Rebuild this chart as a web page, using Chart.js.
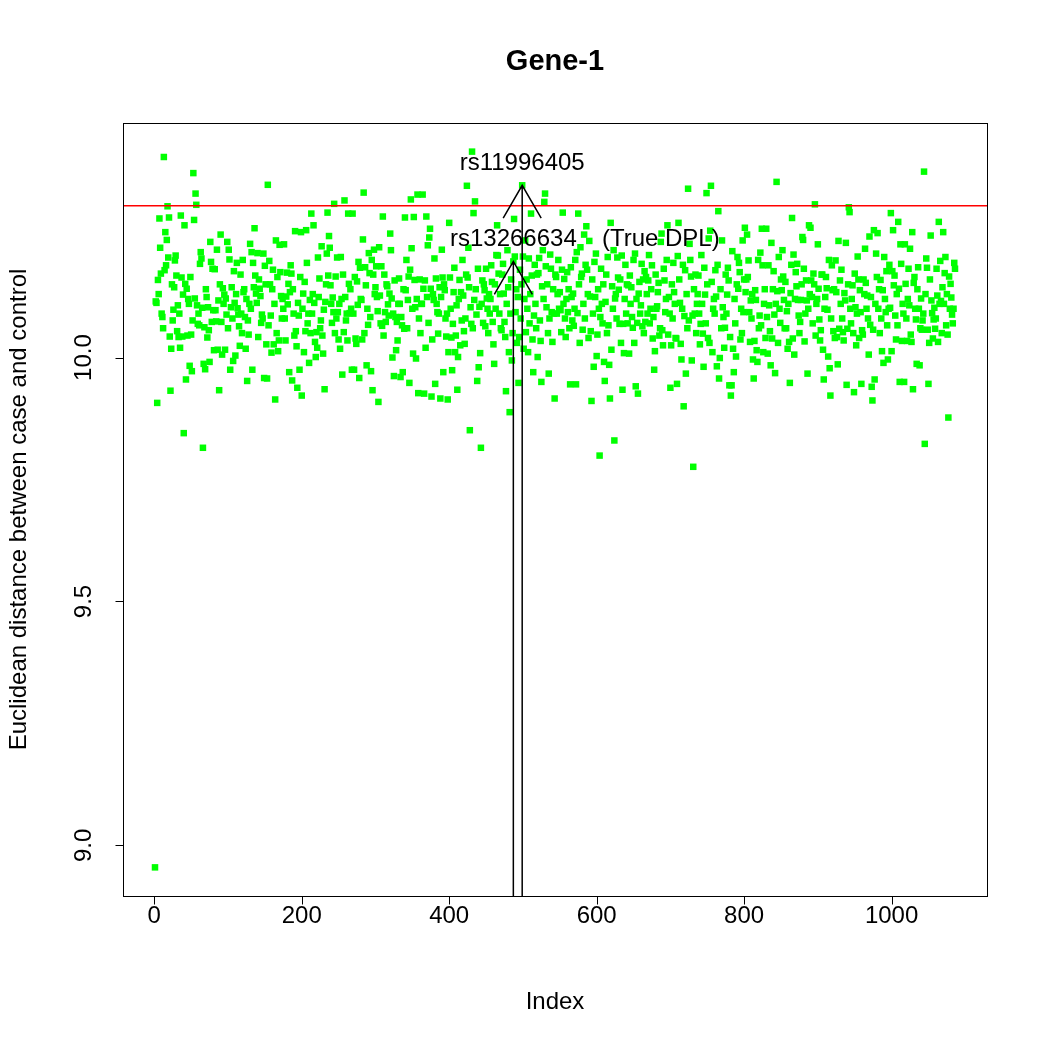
<!DOCTYPE html>
<html>
<head>
<meta charset="utf-8">
<title>Gene-1</title>
<script src="https://cdn.jsdelivr.net/npm/chart.js@4.4.1/dist/chart.umd.min.js"></script>
<style>
  html, body { margin: 0; padding: 0; background: #fff; }
  canvas { display: block; }
</style>
</head>
<body>
<canvas id="geneChart" width="1050" height="1050"></canvas>
<script>
// Euclidean distance between case and control, one value per SNP index
const seg1 = [8.955, 10.115, 10.112, 9.907, 10.159, 10.13, 10.285, 10.225, 10.172, 10.090,
  10.083, 10.06, 10.411, 10.179, 10.257, 10.189, 10.241, 10.310, 10.205, 10.287,
  10.043, 9.932, 10.018, 10.15, 10.076, 10.098, 10.144, 10.199, 10.209, 10.168,
  10.054, 10.107, 10.042, 10.090, 10.02, 10.291, 10.164, 10.043, 10.129, 9.845,
  10.271, 10.151, 9.955, 10.141, 10.045, 10.12, 10.110, 9.983, 10.165, 10.047,
  9.972, 10.076, 10.378, 10.282, 10.121, 10.336, 10.313, 10.107, 10.069, 10.09,
  10.066, 10.192, 10.216, 10.203, 10.102, 9.815, 9.987, 10.062, 9.976, 10.14,
  10.124, 10.041, 10.103, 10.056, 9.991, 10.237, 10.196, 10.073, 10.182, 10.097,
  10.015]
const seg2 = [10.181, 10.097, 10.074, 10.221, 10.016, 10.117, 9.933, 10.15, 10.252, 10.073,
  10.006, 10.142, 10.11, 10.129, 10.016, 10.121, 10.088, 10.237, 10.06, 10.221,
  10.201, 9.975, 10.103, 10.144, 10.080, 9.993, 10.177, 10.112, 10.004, 10.13,
  10.194, 10.101, 10.088, 10.064, 10.024, 10.17, 10.09, 10.05, 10.200, 10.134,
  10.140, 10.083, 10.018, 10.12, 9.952, 10.076, 10.047, 10.110, 10.233, 10.10,
  10.216, 9.975, 10.194, 10.144, 10.265, 10.168, 10.131, 10.112, 10.214, 10.042,
  10.16, 10.141, 10.126, 10.071, 10.088, 10.08, 10.213, 9.958, 10.188, 10.150,
  10.027, 9.957, 10.354, 10.066, 10.198, 10.150, 10.086, 10.010, 10.14, 10.180,
  10.027, 10.110, 9.914, 10.240, 10.05, 10.165, 10.013, 10.035, 10.231, 10.175,
  10.126, 10.080, 10.12, 10.10]
const seg3 = [10.232, 10.080, 10.035, 10.125, 10.174, 10.109, 10.151, 9.970, 10.134, 10.189,
  10.172, 9.953, 10.14, 10.090, 10.045, 10.259, 10.054, 10.023, 9.938, 10.112,
  10.086, 9.975, 10.165, 10.257, 9.922, 10.10, 10.131, 10.011, 10.155, 10.054,
  10.261, 10.194, 10.07, 10.090, 9.989, 10.118, 10.050, 10.295, 10.090, 10.13,
  10.271, 10.112, 10.032, 10.001, 10.052, 10.020, 10.205, 10.124, 10.162, 10.06,
  10.076, 10.228, 10.045, 10.008, 10.098, 9.935, 10.114, 10.15, 10.213, 10.297,
  10.168, 10.249, 10.225, 10.148, 10.11, 10.071, 10.123, 10.093, 10.315, 10.050,
  10.166, 10.08, 10.205, 10.093, 10.037, 10.110, 10.018, 10.206, 10.12, 9.965,
  10.170, 10.052, 10.322, 10.124, 10.076, 10.09, 10.035, 10.295, 10.151, 10.091,
  10.14, 10.10, 9.975]
const seg4 = [10.295, 10.090, 9.975, 10.165, 10.039, 10.028, 10.156, 10.108, 10.196, 9.958,
  10.184, 10.12, 10.118, 10.037, 10.242, 10.338, 10.050, 10.185, 10.148, 9.984,
  10.10, 10.067, 10.214, 10.173, 10.083, 9.972, 10.200, 9.933, 10.170, 10.221,
  10.13, 10.144, 10.187, 10.124, 10.095, 9.909, 10.226, 10.127, 10.07, 10.187,
  10.065, 10.289, 10.045, 10.170, 10.093, 10.073, 10.15, 10.146, 10.109, 10.086,
  10.131, 10.254, 10.220, 10.121, 10.000, 10.09, 9.962, 10.158, 10.083, 10.015,
  10.073, 10.035, 10.11, 10.162, 10.110, 9.960, 10.083, 10.066, 9.970, 10.14,
  10.059, 10.287, 10.138, 10.200, 10.06, 10.118, 10.166, 9.948, 10.180, 10.324,
  10.224, 10.10, 10.008, 10.288, 10.159, 10.103, 9.998, 10.12, 10.334, 9.927,
  10.08, 10.16, 10.05, 10.11]
const seg5 = [10.110, 10.334, 10.141, 9.926, 10.158, 10.020, 10.289, 10.124, 10.230, 10.071,
  10.246, 10.264, 10.141, 9.920, 10.037, 10.13, 10.118, 10.203, 9.946, 10.162,
  10.110, 10.093, 10.049, 10.09, 10.144, 9.916, 10.124, 10.221, 10.164, 9.970,
  10.15, 10.138, 10.080, 10.043, 10.090, 9.914, 10.011, 10.276, 10.164, 10.10,
  10.041, 9.974, 10.069, 10.134, 10.184, 10.011, 10.045, 10.107, 9.934, 10.001,
  10.12, 10.159, 10.025, 10.134, 10.076, 10.200, 10.127, 10.054, 10.028, 10.08,
  10.17, 10.352, 10.164, 10.225, 10.144, 9.851, 10.103, 10.069, 10.422, 10.06,
  10.296, 10.118, 10.320, 10.14, 10.088, 9.952, 10.182, 9.980, 10.104, 10.009,
  9.815, 10.11, 10.158, 10.071, 10.15, 10.138, 10.064, 10.182, 10.121, 10.10,
  10.05, 10.13, 10.09]
const seg6 = [10.12, 10.189, 10.155, 10.073, 10.027, 9.987, 10.15, 10.10, 10.21, 10.271,
  10.209, 10.172, 10.090, 10.13, 10.06, 10.056, 10.17, 10.192, 10.131, 10.073,
  10.042, 9.931, 10.11, 10.22, 10.144, 10.011, 9.888, 10.09, 10.16, 9.994,
  10.05, 10.197, 10.284, 10.207, 10.093, 10.14, 10.03, 10.124, 9.948, 10.042,
  10.18, 10.08, 10.15, 10.353, 10.207, 10.018, 10.12, 10.24, 10.052, 10.16,
  10.10, 10.011, 10.203, 10.07, 10.13, 10.295, 10.168, 10.037, 9.970, 10.086,
  10.19, 10.11, 10.06, 10.17, 10.001, 10.173, 10.204, 10.076, 10.034, 9.950,
  10.146, 10.22, 10.12, 10.319, 10.336, 10.187, 10.103, 10.15, 10.05, 9.967,
  10.08, 10.211, 10.182, 10.093, 10.032, 10.14, 10.09, 9.916, 10.17, 10.165,
  10.090, 10.13, 10.20, 10.10]
const seg7 = [10.134, 10.097, 10.052, 10.18, 10.297, 10.110, 10.161, 10.080, 10.042, 10.12,
  10.175, 10.093, 10.14, 10.06, 9.945, 10.185, 10.124, 10.076, 10.131, 10.065,
  10.10, 10.20, 9.945, 10.216, 10.091, 10.295, 10.15, 10.03, 10.226, 10.165,
  10.172, 10.057, 10.11, 10.252, 10.08, 10.19, 10.269, 10.180, 10.13, 10.04,
  10.239, 10.125, 10.054, 9.911, 10.16, 10.09, 9.981, 10.196, 10.124, 10.213,
  10.003, 10.047, 10.14, 10.100, 9.799, 10.083, 10.182, 10.11, 10.07, 10.150,
  9.991, 9.952, 10.114, 10.17, 10.05, 10.206, 10.066, 9.985, 9.916, 10.276,
  10.016, 10.146, 10.10, 10.22, 9.830, 10.121, 10.13, 10.08, 10.205, 10.164,
  10.139, 10.069, 10.16, 10.03, 10.209, 9.934, 10.069, 10.009, 10.12, 10.19,
  10.09, 10.15, 10.07]
const seg8 = [10.148, 10.008, 10.168, 10.11, 10.144, 10.083, 10.061, 10.20, 10.03, 10.213,
  9.941, 10.12, 10.071, 9.926, 10.131, 10.155, 10.09, 10.107, 10.192, 10.064,
  10.16, 10.05, 10.177, 10.073, 10.165, 10.13, 10.090, 10.158, 10.21, 10.07,
  10.100, 10.14, 10.189, 10.039, 10.083, 9.975, 10.013, 10.17, 10.10, 10.105,
  10.134, 10.153, 10.045, 10.06, 10.237, 10.254, 10.056, 10.025, 10.182, 10.158,
  10.093, 10.12, 10.20, 10.271, 10.047, 10.124, 10.090, 9.938, 10.025, 10.15,
  10.08, 10.194, 10.134, 10.11, 10.04, 10.039, 9.946, 10.208, 10.276, 10.16,
  10.112, 10.028, 9.996, 10.10, 10.19, 9.900, 10.085, 10.179, 9.967, 10.13,
  10.06, 10.346, 10.076, 10.233, 10.200, 10.166, 9.994, 10.086, 9.776, 10.14,
  10.09, 10.17, 10.05, 10.11]
const seg9 = [10.13, 10.168, 10.090, 10.027, 10.069, 10.21, 10.11, 10.049, 9.981, 10.184,
  10.129, 10.07, 10.337, 10.15, 10.04, 10.244, 10.030, 10.260, 10.352, 10.155,
  10.011, 10.10, 10.12, 10.09, 10.179, 10.125, 9.982, 10.19, 10.300, 9.957,
  9.999, 10.14, 10.06, 10.240, 10.103, 10.083, 10.020, 10.061, 10.17, 10.09,
  10.129, 10.184, 10.158, 9.943, 10.042, 9.922, 9.943, 10.218, 10.018, 9.970,
  10.12, 10.07, 10.002, 10.15, 10.206, 10.141, 10.194, 10.175, 10.037, 10.10,
  10.05, 10.240, 10.093, 10.16, 10.266, 10.134, 10.16, 10.252, 10.165, 10.199,
  10.093, 10.032, 10.117, 10.08, 10.13, 9.996, 9.957, 10.034, 10.138, 10.118,
  10.015, 9.991, 10.20, 10.06, 10.086, 10.215, 10.066, 10.264, 10.189, 10.011,
  10.11, 10.14, 10.04]
const seg10 = [10.264, 10.083, 10.008, 10.189, 10.107, 10.054, 9.984, 10.235, 10.039, 10.14,
  10.177, 10.088, 9.968, 10.110, 10.360, 10.136, 10.030, 10.206, 10.100, 10.071,
  10.16, 10.138, 10.220, 10.166, 10.118, 10.06, 10.155, 10.06, 10.095, 10.018,
  10.110, 10.032, 9.948, 10.132, 10.19, 10.286, 10.039, 10.211, 10.006, 10.12,
  10.175, 10.146, 10.192, 10.118, 10.086, 10.05, 10.073, 10.118, 10.15, 10.247,
  10.241, 10.182, 10.033, 10.09, 10.158, 10.117, 9.967, 10.100, 10.271, 10.13,
  10.266, 10.158, 10.124, 10.07, 10.172, 10.150, 10.314, 10.045, 10.11, 10.12,
  10.232, 10.141, 10.078, 10.035, 10.056, 10.17, 10.170, 10.016, 9.955, 10.10,
  10.124, 10.165, 10.142, 10.098, 10.002, 10.200, 9.978, 9.922, 10.08, 10.189,
  10.138, 10.054, 10.14, 10.04]
const seg11 = [10.199, 10.134, 10.042, 9.986, 10.239, 10.059, 10.158, 10.11, 10.18, 10.08,
  10.052, 10.035, 10.132, 10.117, 10.235, 9.944, 10.059, 10.15, 10.308, 10.298,
  10.100, 10.07, 10.12, 10.148, 10.050, 9.929, 10.172, 10.103, 10.025, 10.09,
  10.207, 10.16, 10.04, 10.138, 10.093, 9.946, 10.056, 10.047, 10.16, 10.13,
  10.223, 10.153, 10.100, 10.127, 10.08, 10.006, 10.248, 10.067, 10.124, 9.940,
  9.912, 10.057, 10.261, 9.955, 10.11, 10.213, 10.165, 10.255, 10.100, 10.14,
  10.05, 10.159, 10.080, 10.013, 10.138, 9.989, 10.206, 10.12, 10.093, 10.177,
  10.066, 9.996, 10.10, 10.19, 10.102, 10.296, 10.013, 10.177, 10.261, 10.148,
  10.168, 10.086, 10.037, 10.13, 10.066, 10.278, 10.141, 9.950, 10.232, 10.192,
  10.034, 10.11, 10.09]
const seg12 = [9.950, 10.232, 10.151, 10.080, 10.034, 10.12, 10.182, 10.107, 10.223, 10.047,
  10.032, 10.257, 9.935, 10.153, 10.165, 10.10, 10.078, 9.987, 10.14, 10.185,
  10.100, 9.984, 10.06, 10.121, 10.057, 10.076, 10.090, 10.381, 9.823, 10.13,
  10.203, 10.184, 10.057, 9.946, 10.030, 10.16, 10.250, 10.117, 10.091, 10.039,
  10.078, 10.102, 10.059, 10.08, 10.182, 10.127, 10.032, 10.278, 10.11, 10.198,
  10.116, 10.05, 10.144, 10.257, 10.110, 10.173, 10.206, 10.066, 10.13, 10.047,
  9.877, 10.166, 10.10, 10.151, 10.123, 10.088, 10.07, 10.10, 10.194, 10.182]

const distance = [].concat(seg1, seg2, seg3, seg4, seg5, seg6, seg7, seg8, seg9, seg10, seg11, seg12)

const thresholdValue = 10.311          // red horizontal line
const snpNames = ['rs13266634', 'rs11996405']
const snpIndex = [487, 499]
const noteText = '(True DPL)'
const noteIndex = 687
const noteValue = 10.242

const xTicks = [0, 200, 400, 600, 800, 1000]
const yTicks = [9.0, 9.5, 10.0]
const yTickLabels = ['9.0', '9.5', '10.0']

// R-style axis limits: data range stretched by 4% each side
const n = distance.length
const yLo = Math.min(...distance), yHi = Math.max(...distance)
const xMin = 1 - 0.04 * (n - 1), xMax = n + 0.04 * (n - 1)
const yMin = yLo - 0.04 * (yHi - yLo), yMax = yHi + 0.04 * (yHi - yLo)

const FONT = '"Liberation Sans", Arial, Helvetica, sans-serif'

const rDecor = {
  id: 'rDecor',
  afterDatasetsDraw(chart) {
    const ctx = chart.ctx
    const a = chart.chartArea
    const xs = chart.scales.x, ys = chart.scales.y
    ctx.save()

    // abline
    const yt = ys.getPixelForValue(thresholdValue)
    ctx.strokeStyle = '#ff0000'
    ctx.lineWidth = 1.5
    ctx.beginPath()
    ctx.moveTo(a.left, yt)
    ctx.lineTo(a.right, yt)
    ctx.stroke()

    // arrows up to the two SNPs
    ctx.strokeStyle = '#000'
    ctx.lineWidth = 1.5
    ctx.fillStyle = '#000'
    ctx.font = '24px ' + FONT
    ctx.textAlign = 'center'
    ctx.textBaseline = 'middle'
    const head = 38, ang = Math.PI / 6
    snpIndex.forEach((idx, k) => {
      const px = xs.getPixelForValue(idx)
      const tip = ys.getPixelForValue(distance[idx - 1])
      ctx.beginPath()
      ctx.moveTo(px, a.bottom)
      ctx.lineTo(px, tip)
      ctx.moveTo(px - head * Math.sin(ang), tip + head * Math.cos(ang))
      ctx.lineTo(px, tip)
      ctx.lineTo(px + head * Math.sin(ang), tip + head * Math.cos(ang))
      ctx.stroke()
      ctx.fillText(snpNames[k], px, tip - 22)
    })
    ctx.fillText(noteText, xs.getPixelForValue(noteIndex), ys.getPixelForValue(noteValue))
    ctx.restore()
  },
  afterDraw(chart) {
    const ctx = chart.ctx
    const a = chart.chartArea
    const xs = chart.scales.x, ys = chart.scales.y
    ctx.save()
    ctx.strokeStyle = '#000'
    ctx.fillStyle = '#000'
    ctx.lineWidth = 1

    // box
    ctx.strokeRect(Math.round(a.left) + 0.5, Math.round(a.top) + 0.5,
      Math.round(a.right - a.left), Math.round(a.bottom - a.top))

    const tick = 8
    ctx.font = '24px ' + FONT
    // x axis
    const xb = Math.round(a.bottom) + 0.5
    ctx.beginPath()
    ctx.moveTo(xs.getPixelForValue(xTicks[0]), xb)
    ctx.lineTo(xs.getPixelForValue(xTicks[xTicks.length - 1]), xb)
    xTicks.forEach(v => {
      const px = Math.round(xs.getPixelForValue(v)) + 0.5
      ctx.moveTo(px, xb)
      ctx.lineTo(px, xb + tick)
    })
    ctx.stroke()
    ctx.textAlign = 'center'
    ctx.textBaseline = 'middle'
    xTicks.forEach(v => ctx.fillText(String(v), xs.getPixelForValue(v), 916))

    // y axis
    const yl = Math.round(a.left) + 0.5
    ctx.beginPath()
    ctx.moveTo(yl, ys.getPixelForValue(yTicks[0]))
    ctx.lineTo(yl, ys.getPixelForValue(yTicks[yTicks.length - 1]))
    yTicks.forEach(v => {
      const py = Math.round(ys.getPixelForValue(v)) + 0.5
      ctx.moveTo(yl, py)
      ctx.lineTo(yl - tick, py)
    })
    ctx.stroke()
    yTicks.forEach((v, i) => {
      ctx.save()
      ctx.translate(84, ys.getPixelForValue(v))
      ctx.rotate(-Math.PI / 2)
      ctx.fillText(yTickLabels[i], 0, 0)
      ctx.restore()
    })

    // titles
    ctx.fillText('Index', (a.left + a.right) / 2, 1002)
    ctx.save()
    ctx.translate(19, (a.top + a.bottom) / 2)
    ctx.rotate(-Math.PI / 2)
    ctx.fillText('Euclidean distance between case and control', 0, 0)
    ctx.restore()
    ctx.font = 'bold 29px ' + FONT
    ctx.fillText('Gene-1', (a.left + a.right) / 2, 62)
    ctx.restore()
  }
}

const ctx = document.getElementById('geneChart').getContext('2d')
const geneChart = new Chart(ctx, {
  type: 'scatter',
  data: {
    datasets: [{
      label: 'Gene-1',
      data: distance.map((v, i) => ({ x: i + 1, y: v })),
      pointStyle: 'rect',
      pointRadius: 4.6,
      pointHoverRadius: 4.6,
      backgroundColor: '#00ff00',
      borderColor: '#00ff00',
      borderWidth: 0
    }]
  },
  options: {
    responsive: false,
    animation: false,
    events: [],
    layout: { padding: { left: 123, top: 123, right: 63, bottom: 154 } },
    plugins: { legend: { display: false }, tooltip: { enabled: false } },
    scales: {
      x: { type: 'linear', min: xMin, max: xMax, display: false },
      y: { type: 'linear', min: yMin, max: yMax, display: false }
    }
  },
  plugins: [rDecor]
})
</script>
</body>
</html>
